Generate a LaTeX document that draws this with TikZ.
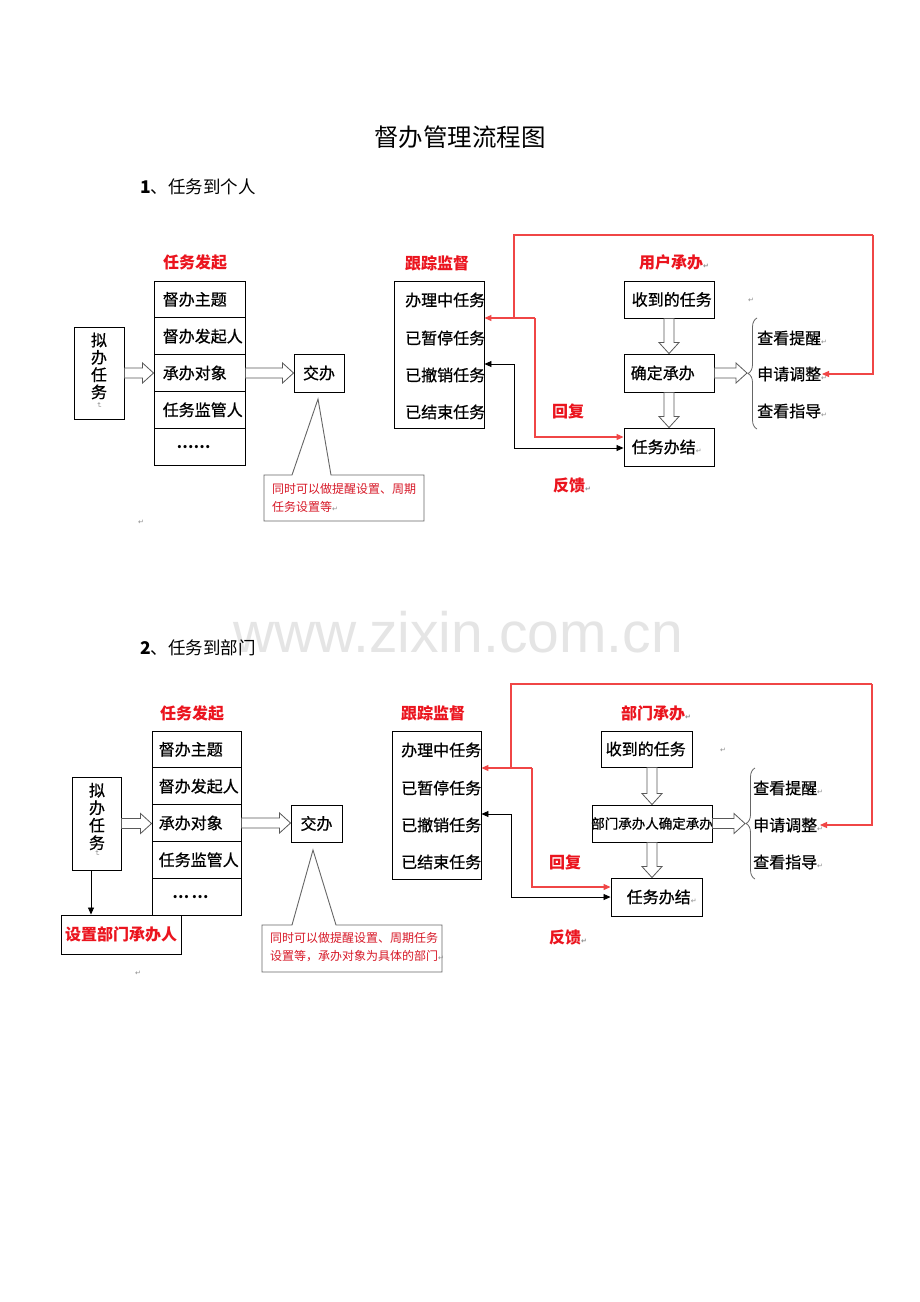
\documentclass[tikz,border=0pt]{standalone}
\usepackage{fontspec}
\setmainfont{Noto Sans CJK SC}
\newfontfamily\medfont[FakeBold=0.7]{Noto Sans CJK SC}
\newfontfamily\dejavu{DejaVu Sans}
\newfontfamily\wmfont{Liberation Sans}
\usetikzlibrary{arrows.meta,decorations.pathreplacing,calc}
\definecolor{hred}{RGB}{235,20,30}
\definecolor{lred}{RGB}{240,70,70}
\definecolor{cred}{RGB}{215,25,40}
\newcommand\parmark{\textcolor{black!45}{\dejavu\fontsize{7}{7}\selectfont ↵}}
\newcommand\HR[2]{\draw[harrow] let \p1=(#1), \p2=(#2) in (\x1,\y1+5pt) -- (\x2-11pt,\y1+5pt) -- (\x2-11pt,\y1+10pt) -- (\x2,\y1) -- (\x2-11pt,\y1-10pt) -- (\x2-11pt,\y1-5pt) -- (\x1,\y1-5pt) -- cycle;}
\newcommand\HD[2]{\draw[harrow] let \p1=(#1), \p2=(#2) in (\x1+5pt,\y1) -- (\x1+5pt,\y2+11pt) -- (\x1+10pt,\y2+11pt) -- (\x1,\y2) -- (\x1-10pt,\y2+11pt) -- (\x1-5pt,\y2+11pt) -- (\x1-5pt,\y1) -- cycle;}
\begin{document}
\begin{tikzpicture}[x=1pt,y=-1pt,
  box/.style={draw=black, line width=0.9pt, inner sep=0},
  txt/.style={inner sep=0, anchor=west, font=\medfont\fontsize{16}{18}\selectfont},
  ctr/.style={inner sep=0, font=\medfont\fontsize{16}{18}\selectfont},
  hdr/.style={inner sep=0, text=hred, font=\bfseries\fontsize{16}{18}\selectfont},
  harrow/.style={draw=black!65, line width=0.8pt, fill=white},
  rline/.style={draw=lred, line width=1.1pt},
  bline/.style={draw=black, line width=0.8pt},
  tip/.style={-{Triangle[length=7pt,width=6pt]}},
  callout/.style={draw=black!60, line width=0.9pt, fill=white},
  ctext/.style={inner sep=0, anchor=west, text=cred, font=\fontsize{12}{14}\selectfont},
  brc/.style={draw=black!60, line width=0.8pt, decorate, decoration={brace, amplitude=9pt}},
  pm/.style={inner sep=0}
]
\fill[white] (0,0) rectangle (920,1302);
\useasboundingbox (0,0) rectangle (920,1302);

% watermark
\node[font=\wmfont\fontsize{57}{60}\selectfont, text=black!10, anchor=base, inner sep=0] (wm) at (458,652) {www.zixin.com.cn};

% title
\node[inner sep=0, font=\fontsize{24.5}{26}\selectfont] (title) at (460,137) {督办管理流程图};
\node[txt, font=\fontsize{17.5}{20}\selectfont] (sec1) at (140,187) {{\bfseries 1}、任务到个人};
\node[txt, font=\fontsize{17.5}{20}\selectfont] (sec2) at (140,648) {{\bfseries 2}、任务到部门};

%================ diagram 1 ================
\node[hdr, anchor=west] (h1a) at (163,262) {任务发起};
\node[box, minimum width=50pt, minimum height=92pt] (nb1) at (99,373) {};
\node[ctr, align=center, font=\medfont\fontsize{16}{17.3}\selectfont] (nb1t) at (99,366) {拟\\办\\任\\务};
\node[pm, rotate=-90] (nb1m) at (99,405) {\parmark};

\node[box, minimum width=91pt, minimum height=36.8pt] (a1) at (199.5,299.4) {};
\node[box, minimum width=91pt, minimum height=36.8pt] (a2) at (199.5,336.2) {};
\node[box, minimum width=91pt, minimum height=36.8pt] (a3) at (199.5,373.0) {};
\node[box, minimum width=91pt, minimum height=36.8pt] (a4) at (199.5,409.8) {};
\node[box, minimum width=91pt, minimum height=36.8pt] (a5) at (199.5,446.6) {};
\node[txt] (a1t) at ([xshift=9pt]a1.west) {督办主题};
\node[txt] (a2t) at ([xshift=9pt]a2.west) {督办发起人};
\node[txt] (a3t) at ([xshift=9pt]a3.west) {承办对象};
\node[txt] (a4t) at ([xshift=9pt]a4.west) {任务监管人};
\node[ctr, font=\bfseries\fontsize{15}{16}\selectfont] (a5t) at ([xshift=-6pt]a5.center) {……};

\node[box, minimum width=50pt, minimum height=38pt] (jb1) at (319,373) {};
\node[ctr] (jb1t) at (jb1.center) {交办};
\HR{nb1.east}{a3.west}
\HR{a3.east}{jb1.west}

\draw[callout] (264,475) -- (292,475) -- (318,399) -- (331,475) -- (424,475) -- (424,521) -- (264,521) -- cycle;
\node[ctext] (c1a) at (272,489) {同时可以做提醒设置、周期};
\node[ctext] (c1b) at (272,507) {任务设置等\parmark};
\node[pm] (m1a) at (141,522) {\parmark};

\node[hdr, anchor=west] (h1b) at (405,263) {跟踪监督};
\node[box, minimum width=90pt, minimum height=147pt] (mon1) at (439,354.5) {};
\node[txt] (m1i1) at (405,300) {办理中任务};
\node[txt] (m1i2) at (405,338) {已暂停任务};
\node[txt] (m1i3) at (405,375) {已撤销任务};
\node[txt] (m1i4) at (405,412) {已结束任务};

\node[hdr, anchor=west] (h1c) at (639,262) {用户承办\parmark};
\node[box, minimum width=90pt, minimum height=37pt] (rec1) at (669,299.5) {};
\node[txt] (rec1t) at ([xshift=8pt]rec1.west) {收到的任务};
\node[box, minimum width=90pt, minimum height=38pt] (conf1) at (669,373) {};
\node[txt] (conf1t) at ([xshift=7pt]conf1.west) {确定承办};
\node[box, minimum width=90pt, minimum height=38pt] (done1) at (669,447) {};
\node[txt] (done1t) at ([xshift=8pt]done1.west) {任务办结\parmark};
\node[pm] (m1b) at (751,300) {\parmark};
\HD{rec1.south}{conf1.north}
\HD{conf1.south}{done1.north}

\coordinate (br1a) at (757,429);
\coordinate (br1b) at (757,318);
\coordinate (br1tip) at (747,373);
\draw[brc] (br1a) -- (br1b);
\HR{conf1.east}{br1tip}
\node[txt] (o1a) at (757,338) {查看提醒\parmark};
\node[txt] (o1b) at (757,374) {申请调整\parmark};
\node[txt] (o1c) at (757,411) {查看指导\parmark};

\node[hdr] (rep1) at (568,411) {回复};
\node[hdr, anchor=west] (fb1) at (553,485) {反馈\parmark};

\coordinate (r1top) at (514,235);
\coordinate (r1tr) at (873,235);
\coordinate (r1mid) at (514,318);
\coordinate (r1j) at (535,318);
\coordinate (r1k) at (535,437);
\coordinate (o1tip) at (822,374);
\draw[rline] (r1mid) -- (r1top) -- (r1tr);
\draw[rline,tip] (r1tr) |- (o1tip);
\draw[rline,tip] (r1j) -- (mon1.east |- r1j);
\draw[rline,tip] (r1j) -- (r1k) -- (done1.west |- r1k);
\coordinate (b1j) at (514,364);
\coordinate (b1k) at (514,448);
\draw[bline,tip] (b1j) -- (mon1.east |- b1j);
\draw[bline,tip] (b1j) -- (b1k) -- (done1.west |- b1k);

%================ diagram 2 ================
\node[hdr, anchor=west] (h2a) at (160,713) {任务发起};
\node[box, minimum width=49pt, minimum height=93pt] (nb2) at (96.5,823.5) {};
\node[ctr, align=center, font=\medfont\fontsize{16}{17.5}\selectfont] (nb2t) at (97,816.5) {拟\\办\\任\\务};
\node[pm, rotate=-90] (nb2m) at (97,853) {\parmark};

\node[box, minimum width=89pt, minimum height=36.8pt] (b1) at (196.5,749.4) {};
\node[box, minimum width=89pt, minimum height=36.8pt] (b2) at (196.5,786.2) {};
\node[box, minimum width=89pt, minimum height=36.8pt] (b3) at (196.5,823.0) {};
\node[box, minimum width=89pt, minimum height=36.8pt] (b4) at (196.5,859.8) {};
\node[box, minimum width=89pt, minimum height=36.8pt] (b5) at (196.5,896.6) {};
\node[txt] (b1t) at ([xshift=7pt]b1.west) {督办主题};
\node[txt] (b2t) at ([xshift=7pt]b2.west) {督办发起人};
\node[txt] (b3t) at ([xshift=7pt]b3.west) {承办对象};
\node[txt] (b4t) at ([xshift=7pt]b4.west) {任务监管人};
\node[ctr, font=\bfseries\fontsize{15}{16}\selectfont] (b5t) at ([xshift=-6pt]b5.center) {…\,…};

\node[box, minimum width=51pt, minimum height=37pt] (jb2) at (316.5,823.5) {};
\node[ctr] (jb2t) at (jb2.center) {交办};
\HR{nb2.east}{b3.west}
\HR{b3.east}{jb2.west}

\node[box, minimum width=120pt, minimum height=39pt] (setp) at (121,934.5) {};
\node[hdr] (setpt) at (setp.center) {设置部门承办人};
\draw[bline,tip] ([xshift=-5.5pt]nb2.south) -- ([xshift=-5.5pt]nb2.south |- setp.north);
\node[pm] (m2a) at (138,973) {\parmark};

\draw[callout] (262,925) -- (292,925) -- (313,850) -- (336,925) -- (442,925) -- (442,972) -- (262,972) -- cycle;
\node[ctext] (c2a) at (270,938) {同时可以做提醒设置、周期任务};
\node[ctext] (c2b) at (270,956) {设置等，承办对象为具体的部门\parmark};

\node[hdr, anchor=west] (h2b) at (401,713) {跟踪监督};
\node[box, minimum width=89pt, minimum height=148pt] (mon2) at (436.5,805) {};
\node[txt] (m2i1) at (401,750) {办理中任务};
\node[txt] (m2i2) at (401,788) {已暂停任务};
\node[txt] (m2i3) at (401,825) {已撤销任务};
\node[txt] (m2i4) at (401,862) {已结束任务};

\node[hdr, anchor=west] (h2c) at (621,713) {部门承办\parmark};
\node[box, minimum width=91pt, minimum height=36pt] (rec2) at (646.5,749) {};
\node[txt] (rec2t) at ([xshift=5pt]rec2.west) {收到的任务};
\node[box, minimum width=120pt, minimum height=37pt] (conf2) at (652,823.5) {};
\node[ctr, font=\medfont\fontsize{13.5}{15}\selectfont] (conf2t) at (conf2.center) {部门承办人确定承办};
\node[box, minimum width=91pt, minimum height=38pt] (done2) at (656.5,897) {};
\node[txt] (done2t) at ([xshift=16pt]done2.west) {任务办结\parmark};
\node[pm] (m2b) at (723,750) {\parmark};
\HD{conf2.north |- rec2.south}{conf2.north}
\HD{conf2.south}{conf2.south |- done2.north}

\coordinate (br2a) at (755,879);
\coordinate (br2b) at (755,768);
\coordinate (br2tip) at (745,823.5);
\draw[brc] (br2a) -- (br2b);
\HR{conf2.east}{br2tip}
\node[txt] (o2a) at (753,788) {查看提醒\parmark};
\node[txt] (o2b) at (753,825) {申请调整\parmark};
\node[txt] (o2c) at (753,862) {查看指导\parmark};

\node[hdr] (rep2) at (565,862) {回复};
\node[hdr, anchor=west] (fb2) at (549,937) {反馈\parmark};

\coordinate (r2top) at (511,684);
\coordinate (r2tr) at (872,684);
\coordinate (r2mid) at (511,768);
\coordinate (r2j) at (532,768);
\coordinate (r2k) at (532,887);
\coordinate (o2tip) at (820,825);
\draw[rline] (r2mid) -- (r2top) -- (r2tr);
\draw[rline,tip] (r2tr) |- (o2tip);
\draw[rline,tip] (r2j) -- (mon2.east |- r2j);
\draw[rline,tip] (r2j) -- (r2k) -- (done2.west |- r2k);
\coordinate (b2j) at (511,814);
\coordinate (b2k) at (511,897);
\draw[bline,tip] (b2j) -- (mon2.east |- b2j);
\draw[bline,tip] (b2j) -- (b2k) -- (done2.west |- b2k);
\end{tikzpicture}
\end{document}
